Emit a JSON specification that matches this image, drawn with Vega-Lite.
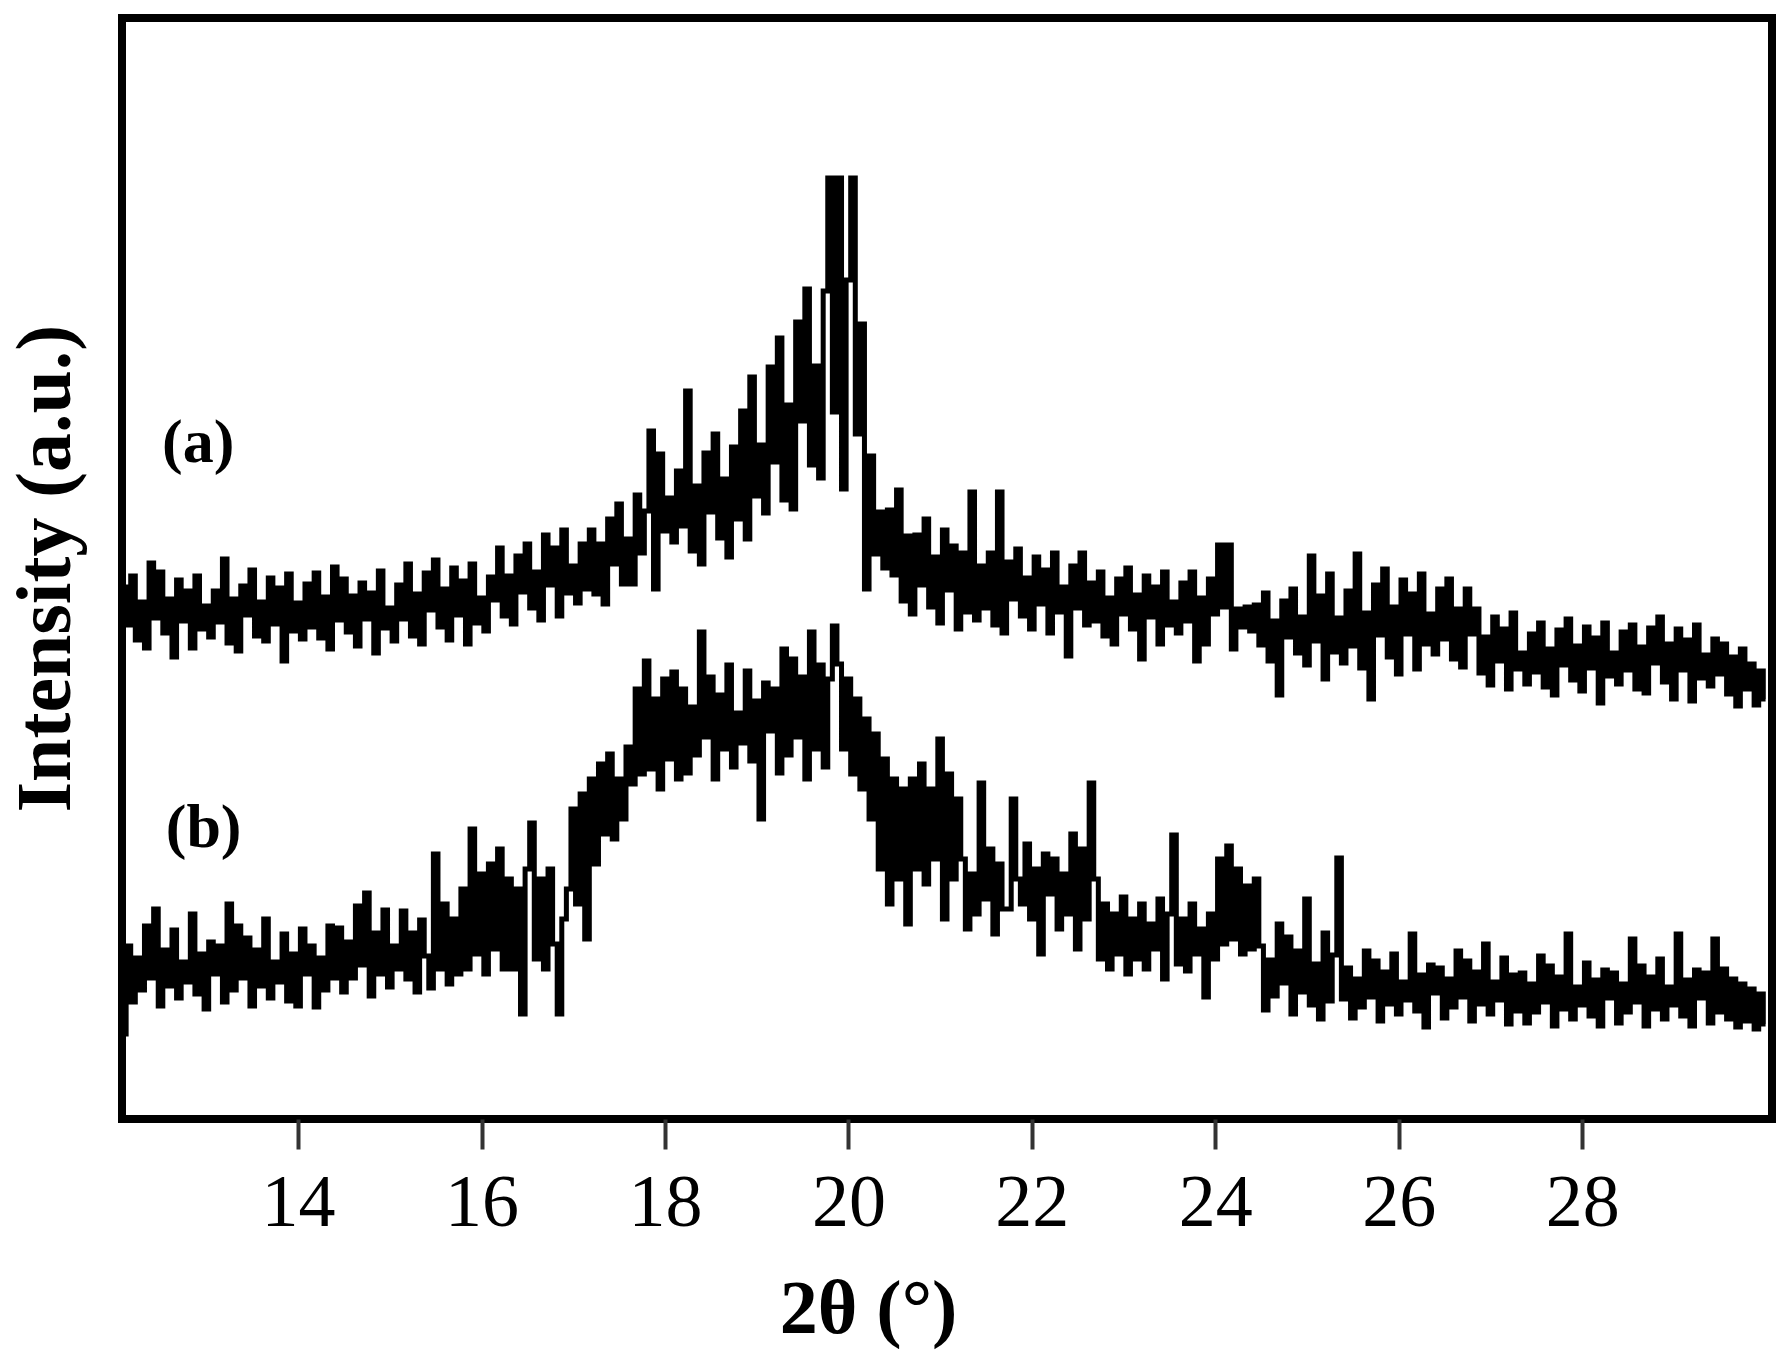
{
"$schema": "https://vega.github.io/schema/vega-lite/v6.json",
"width": 1650, "height": 1101,
"autosize": {"type": "none"},
"padding": {"left": 122, "top": 18, "right": 10, "bottom": 238},
"background": "white",
"config": {"view": {"stroke": "black", "strokeWidth": 8}},
"encoding": {
 "x": {"field": "x", "type": "quantitative", "scale": {"domain": [12.08, 30.07], "nice": false, "zero": false},
  "axis": {"title": "2θ (°)", "values": [14,16,18,20,22,24,26,28], "domain": false, "grid": false, "ticks": true, "tickSize": 30, "tickWidth": 4, "tickColor": "#333", "labelFont": "Liberation Serif", "labelFontSize": 74, "labelColor": "black", "labelPadding": 18, "labelFlush": false, "labelOverlap": false, "titleFont": "Liberation Serif", "titleFontSize": 76, "titleFontWeight": "bold", "titleColor": "black", "titleX": 746, "titleY": 213, "titleAlign": "center", "titleBaseline": "alphabetic"}},
 "y": {"field": "y", "type": "quantitative", "scale": {"domain": [0, 1101], "nice": false, "zero": false},
  "axis": {"title": "Intensity (a.u.)", "domain": false, "grid": false, "ticks": false, "labels": false, "titleFont": "Liberation Serif", "titleFontSize": 78, "titleFontWeight": "bold", "titleColor": "black", "titleAngle": -90, "titleX": -53, "titleY": 550, "titleAlign": "center", "titleBaseline": "alphabetic"}}
},
"layer": [
{"data": {"values": [
{"s":"a","x":12.1,"y":532},{"s":"a","x":12.15,"y":494},{"s":"a","x":12.2,"y":543},{"s":"a","x":12.25,"y":479},{"s":"a","x":12.3,"y":517},{"s":"a","x":12.35,"y":471},{"s":"a","x":12.4,"y":556},{"s":"a","x":12.45,"y":501},{"s":"a","x":12.5,"y":547},{"s":"a","x":12.55,"y":486},{"s":"a","x":12.6,"y":520},{"s":"a","x":12.65,"y":462},{"s":"a","x":12.7,"y":539},{"s":"a","x":12.75,"y":498},{"s":"a","x":12.8,"y":528},{"s":"a","x":12.85,"y":471},{"s":"a","x":12.9,"y":543},{"s":"a","x":12.95,"y":490},{"s":"a","x":13,"y":513},{"s":"a","x":13.05,"y":482},
{"s":"a","x":13.1,"y":528},{"s":"a","x":13.15,"y":497},{"s":"a","x":13.2,"y":560},{"s":"a","x":13.25,"y":476},{"s":"a","x":13.3,"y":520},{"s":"a","x":13.35,"y":468},{"s":"a","x":13.4,"y":533},{"s":"a","x":13.45,"y":504},{"s":"a","x":13.5,"y":549},{"s":"a","x":13.55,"y":483},{"s":"a","x":13.6,"y":517},{"s":"a","x":13.65,"y":478},{"s":"a","x":13.7,"y":541},{"s":"a","x":13.75,"y":495},{"s":"a","x":13.8,"y":531},{"s":"a","x":13.85,"y":458},{"s":"a","x":13.9,"y":545},{"s":"a","x":13.95,"y":488},{"s":"a","x":14,"y":516},{"s":"a","x":14.05,"y":480},
{"s":"a","x":14.1,"y":535},{"s":"a","x":14.15,"y":492},{"s":"a","x":14.2,"y":546},{"s":"a","x":14.25,"y":481},{"s":"a","x":14.3,"y":522},{"s":"a","x":14.35,"y":470},{"s":"a","x":14.4,"y":552},{"s":"a","x":14.45,"y":499},{"s":"a","x":14.5,"y":540},{"s":"a","x":14.55,"y":487},{"s":"a","x":14.6,"y":523},{"s":"a","x":14.65,"y":473},{"s":"a","x":14.7,"y":536},{"s":"a","x":14.75,"y":500},{"s":"a","x":14.8,"y":526},{"s":"a","x":14.85,"y":466},{"s":"a","x":14.9,"y":548},{"s":"a","x":14.95,"y":491},{"s":"a","x":15,"y":511},{"s":"a","x":15.05,"y":478},
{"s":"a","x":15.1,"y":534},{"s":"a","x":15.15,"y":500},{"s":"a","x":15.2,"y":555},{"s":"a","x":15.25,"y":483},{"s":"a","x":15.3,"y":525},{"s":"a","x":15.35,"y":475},{"s":"a","x":15.4,"y":546},{"s":"a","x":15.45,"y":509},{"s":"a","x":15.5,"y":559},{"s":"a","x":15.55,"y":492},{"s":"a","x":15.6,"y":530},{"s":"a","x":15.65,"y":479},{"s":"a","x":15.7,"y":551},{"s":"a","x":15.75,"y":504},{"s":"a","x":15.8,"y":538},{"s":"a","x":15.85,"y":475},{"s":"a","x":15.9,"y":555},{"s":"a","x":15.95,"y":496},{"s":"a","x":16,"y":521},{"s":"a","x":16.05,"y":488},
{"s":"a","x":16.1,"y":542},{"s":"a","x":16.15,"y":519},{"s":"a","x":16.2,"y":571},{"s":"a","x":16.25,"y":503},{"s":"a","x":16.3,"y":543},{"s":"a","x":16.35,"y":495},{"s":"a","x":16.4,"y":563},{"s":"a","x":16.45,"y":527},{"s":"a","x":16.5,"y":575},{"s":"a","x":16.55,"y":511},{"s":"a","x":16.6,"y":547},{"s":"a","x":16.65,"y":499},{"s":"a","x":16.7,"y":584},{"s":"a","x":16.75,"y":534},{"s":"a","x":16.8,"y":571},{"s":"a","x":16.85,"y":503},{"s":"a","x":16.9,"y":589},{"s":"a","x":16.95,"y":526},{"s":"a","x":17,"y":553},{"s":"a","x":17.05,"y":516},
{"s":"a","x":17.1,"y":575},{"s":"a","x":17.15,"y":530},{"s":"a","x":17.2,"y":589},{"s":"a","x":17.25,"y":525},{"s":"a","x":17.3,"y":575},{"s":"a","x":17.35,"y":515},{"s":"a","x":17.4,"y":600},{"s":"a","x":17.45,"y":555},{"s":"a","x":17.5,"y":615},{"s":"a","x":17.55,"y":535},{"s":"a","x":17.6,"y":580},{"s":"a","x":17.65,"y":535},{"s":"a","x":17.7,"y":624},{"s":"a","x":17.75,"y":566},{"s":"a","x":17.8,"y":608},{"s":"a","x":17.85,"y":688},{"s":"a","x":17.9,"y":530},{"s":"a","x":17.95,"y":665},{"s":"a","x":18,"y":588},{"s":"a","x":18.05,"y":621},
{"s":"a","x":18.1,"y":577},{"s":"a","x":18.15,"y":648},{"s":"a","x":18.2,"y":593},{"s":"a","x":18.25,"y":728},{"s":"a","x":18.3,"y":568},{"s":"a","x":18.35,"y":633},{"s":"a","x":18.4,"y":555},{"s":"a","x":18.45,"y":666},{"s":"a","x":18.5,"y":607},{"s":"a","x":18.55,"y":685},{"s":"a","x":18.6,"y":581},{"s":"a","x":18.65,"y":640},{"s":"a","x":18.7,"y":562},{"s":"a","x":18.75,"y":672},{"s":"a","x":18.8,"y":600},{"s":"a","x":18.85,"y":708},{"s":"a","x":18.9,"y":580},{"s":"a","x":18.95,"y":742},{"s":"a","x":19,"y":623},{"s":"a","x":19.05,"y":674},
{"s":"a","x":19.1,"y":606},{"s":"a","x":19.15,"y":752},{"s":"a","x":19.2,"y":657},{"s":"a","x":19.25,"y":781},{"s":"a","x":19.3,"y":619},{"s":"a","x":19.35,"y":714},{"s":"a","x":19.4,"y":610},{"s":"a","x":19.45,"y":797},{"s":"a","x":19.5,"y":698},{"s":"a","x":19.55,"y":830},{"s":"a","x":19.6,"y":654},{"s":"a","x":19.65,"y":753},{"s":"a","x":19.7,"y":641},{"s":"a","x":19.75,"y":828},{"s":"a","x":19.8,"y":941},{"s":"a","x":19.85,"y":707},{"s":"a","x":19.9,"y":941},{"s":"a","x":19.95,"y":630},{"s":"a","x":20,"y":839},{"s":"a","x":20.05,"y":941},
{"s":"a","x":20.1,"y":685},{"s":"a","x":20.15,"y":795},{"s":"a","x":20.2,"y":530},{"s":"a","x":20.25,"y":663},{"s":"a","x":20.3,"y":565},{"s":"a","x":20.35,"y":607},{"s":"a","x":20.4,"y":551},{"s":"a","x":20.45,"y":609},{"s":"a","x":20.5,"y":544},{"s":"a","x":20.55,"y":629},{"s":"a","x":20.6,"y":518},{"s":"a","x":20.65,"y":583},{"s":"a","x":20.7,"y":505},{"s":"a","x":20.75,"y":584},{"s":"a","x":20.8,"y":534},{"s":"a","x":20.85,"y":600},{"s":"a","x":20.9,"y":512},{"s":"a","x":20.95,"y":562},{"s":"a","x":21,"y":496},{"s":"a","x":21.05,"y":589},
{"s":"a","x":21.1,"y":529},{"s":"a","x":21.15,"y":573},{"s":"a","x":21.2,"y":490},{"s":"a","x":21.25,"y":566},{"s":"a","x":21.3,"y":507},{"s":"a","x":21.35,"y":627},{"s":"a","x":21.4,"y":499},{"s":"a","x":21.45,"y":553},{"s":"a","x":21.5,"y":511},{"s":"a","x":21.55,"y":566},{"s":"a","x":21.6,"y":494},{"s":"a","x":21.65,"y":627},{"s":"a","x":21.7,"y":486},{"s":"a","x":21.75,"y":557},{"s":"a","x":21.8,"y":520},{"s":"a","x":21.85,"y":570},{"s":"a","x":21.9,"y":503},{"s":"a","x":21.95,"y":541},{"s":"a","x":22,"y":490},{"s":"a","x":22.05,"y":562},
{"s":"a","x":22.1,"y":515},{"s":"a","x":22.15,"y":549},{"s":"a","x":22.2,"y":486},{"s":"a","x":22.25,"y":566},{"s":"a","x":22.3,"y":507},{"s":"a","x":22.35,"y":532},{"s":"a","x":22.4,"y":463},{"s":"a","x":22.45,"y":553},{"s":"a","x":22.5,"y":511},{"s":"a","x":22.55,"y":566},{"s":"a","x":22.6,"y":494},{"s":"a","x":22.65,"y":536},{"s":"a","x":22.7,"y":498},{"s":"a","x":22.75,"y":547},{"s":"a","x":22.8,"y":483},{"s":"a","x":22.85,"y":521},{"s":"a","x":22.9,"y":475},{"s":"a","x":22.95,"y":540},{"s":"a","x":23,"y":505},{"s":"a","x":23.05,"y":551},
{"s":"a","x":23.1,"y":490},{"s":"a","x":23.15,"y":524},{"s":"a","x":23.2,"y":460},{"s":"a","x":23.25,"y":543},{"s":"a","x":23.3,"y":502},{"s":"a","x":23.35,"y":532},{"s":"a","x":23.4,"y":475},{"s":"a","x":23.45,"y":547},{"s":"a","x":23.5,"y":494},{"s":"a","x":23.55,"y":517},{"s":"a","x":23.6,"y":486},{"s":"a","x":23.65,"y":536},{"s":"a","x":23.7,"y":498},{"s":"a","x":23.75,"y":547},{"s":"a","x":23.8,"y":458},{"s":"a","x":23.85,"y":521},{"s":"a","x":23.9,"y":475},{"s":"a","x":23.95,"y":540},{"s":"a","x":24,"y":505},{"s":"a","x":24.05,"y":574},
{"s":"a","x":24.1,"y":512},{"s":"a","x":24.15,"y":574},{"s":"a","x":24.2,"y":470},{"s":"a","x":24.25,"y":510},{"s":"a","x":24.3,"y":492},{"s":"a","x":24.35,"y":512},{"s":"a","x":24.4,"y":488},{"s":"a","x":24.45,"y":514},{"s":"a","x":24.5,"y":474},{"s":"a","x":24.55,"y":526},{"s":"a","x":24.6,"y":458},{"s":"a","x":24.65,"y":498},{"s":"a","x":24.7,"y":424},{"s":"a","x":24.75,"y":518},{"s":"a","x":24.8,"y":482},{"s":"a","x":24.85,"y":530},{"s":"a","x":24.9,"y":466},{"s":"a","x":24.95,"y":502},{"s":"a","x":25,"y":454},{"s":"a","x":25.05,"y":563},
{"s":"a","x":25.1,"y":478},{"s":"a","x":25.15,"y":523},{"s":"a","x":25.2,"y":440},{"s":"a","x":25.25,"y":545},{"s":"a","x":25.3,"y":467},{"s":"a","x":25.35,"y":501},{"s":"a","x":25.4,"y":456},{"s":"a","x":25.45,"y":528},{"s":"a","x":25.5,"y":473},{"s":"a","x":25.55,"y":565},{"s":"a","x":25.6,"y":451},{"s":"a","x":25.65,"y":506},{"s":"a","x":25.7,"y":420},{"s":"a","x":25.75,"y":534},{"s":"a","x":25.8,"y":484},{"s":"a","x":25.85,"y":550},{"s":"a","x":25.9,"y":462},{"s":"a","x":25.95,"y":512},{"s":"a","x":26,"y":445},{"s":"a","x":26.05,"y":539},
{"s":"a","x":26.1,"y":485},{"s":"a","x":26.15,"y":525},{"s":"a","x":26.2,"y":450},{"s":"a","x":26.25,"y":545},{"s":"a","x":26.3,"y":475},{"s":"a","x":26.35,"y":505},{"s":"a","x":26.4,"y":465},{"s":"a","x":26.45,"y":530},{"s":"a","x":26.5,"y":480},{"s":"a","x":26.55,"y":540},{"s":"a","x":26.6,"y":460},{"s":"a","x":26.65,"y":510},{"s":"a","x":26.7,"y":452},{"s":"a","x":26.75,"y":530},{"s":"a","x":26.8,"y":485},{"s":"a","x":26.85,"y":510},{"s":"a","x":26.9,"y":446},{"s":"a","x":26.95,"y":482},{"s":"a","x":27,"y":434},{"s":"a","x":27.05,"y":502},
{"s":"a","x":27.1,"y":458},{"s":"a","x":27.15,"y":490},{"s":"a","x":27.2,"y":430},{"s":"a","x":27.25,"y":506},{"s":"a","x":27.3,"y":450},{"s":"a","x":27.35,"y":466},{"s":"a","x":27.4,"y":435},{"s":"a","x":27.45,"y":485},{"s":"a","x":27.5,"y":447},{"s":"a","x":27.55,"y":496},{"s":"a","x":27.6,"y":432},{"s":"a","x":27.65,"y":470},{"s":"a","x":27.7,"y":424},{"s":"a","x":27.75,"y":489},{"s":"a","x":27.8,"y":454},{"s":"a","x":27.85,"y":500},{"s":"a","x":27.9,"y":439},{"s":"a","x":27.95,"y":473},{"s":"a","x":28,"y":428},{"s":"a","x":28.05,"y":492},
{"s":"a","x":28.1,"y":451},{"s":"a","x":28.15,"y":481},{"s":"a","x":28.2,"y":416},{"s":"a","x":28.25,"y":496},{"s":"a","x":28.3,"y":443},{"s":"a","x":28.35,"y":466},{"s":"a","x":28.4,"y":435},{"s":"a","x":28.45,"y":487},{"s":"a","x":28.5,"y":449},{"s":"a","x":28.55,"y":494},{"s":"a","x":28.6,"y":430},{"s":"a","x":28.65,"y":472},{"s":"a","x":28.7,"y":426},{"s":"a","x":28.75,"y":491},{"s":"a","x":28.8,"y":456},{"s":"a","x":28.85,"y":502},{"s":"a","x":28.9,"y":437},{"s":"a","x":28.95,"y":475},{"s":"a","x":29,"y":420},{"s":"a","x":29.05,"y":490},
{"s":"a","x":29.1,"y":449},{"s":"a","x":29.15,"y":479},{"s":"a","x":29.2,"y":418},{"s":"a","x":29.25,"y":494},{"s":"a","x":29.3,"y":441},{"s":"a","x":29.35,"y":464},{"s":"a","x":29.4,"y":433},{"s":"a","x":29.45,"y":480},{"s":"a","x":29.5,"y":445},{"s":"a","x":29.55,"y":475},{"s":"a","x":29.6,"y":425},{"s":"a","x":29.65,"y":462},{"s":"a","x":29.7,"y":413},{"s":"a","x":29.75,"y":470},{"s":"a","x":29.8,"y":430},{"s":"a","x":29.85,"y":455},{"s":"a","x":29.9,"y":414},{"s":"a","x":29.95,"y":448},{"s":"a","x":30,"y":420},
{"s":"b","x":12.1,"y":85},{"s":"b","x":12.15,"y":173},{"s":"b","x":12.2,"y":117},{"s":"b","x":12.25,"y":161},{"s":"b","x":12.3,"y":129},{"s":"b","x":12.35,"y":193},{"s":"b","x":12.4,"y":141},{"s":"b","x":12.45,"y":210},{"s":"b","x":12.5,"y":113},{"s":"b","x":12.55,"y":169},{"s":"b","x":12.6,"y":133},{"s":"b","x":12.65,"y":189},{"s":"b","x":12.7,"y":121},{"s":"b","x":12.75,"y":157},{"s":"b","x":12.8,"y":137},{"s":"b","x":12.85,"y":205},{"s":"b","x":12.9,"y":125},{"s":"b","x":12.95,"y":165},{"s":"b","x":13,"y":110},{"s":"b","x":13.05,"y":177},
{"s":"b","x":13.1,"y":145},{"s":"b","x":13.15,"y":173},{"s":"b","x":13.2,"y":117},{"s":"b","x":13.25,"y":215},{"s":"b","x":13.3,"y":129},{"s":"b","x":13.35,"y":193},{"s":"b","x":13.4,"y":141},{"s":"b","x":13.45,"y":181},{"s":"b","x":13.5,"y":113},{"s":"b","x":13.55,"y":169},{"s":"b","x":13.6,"y":133},{"s":"b","x":13.65,"y":200},{"s":"b","x":13.7,"y":121},{"s":"b","x":13.75,"y":157},{"s":"b","x":13.8,"y":137},{"s":"b","x":13.85,"y":185},{"s":"b","x":13.9,"y":118},{"s":"b","x":13.95,"y":165},{"s":"b","x":14,"y":113},{"s":"b","x":14.05,"y":190},
{"s":"b","x":14.1,"y":145},{"s":"b","x":14.15,"y":173},{"s":"b","x":14.2,"y":112},{"s":"b","x":14.25,"y":161},{"s":"b","x":14.3,"y":129},{"s":"b","x":14.35,"y":193},{"s":"b","x":14.4,"y":141},{"s":"b","x":14.45,"y":191},{"s":"b","x":14.5,"y":127},{"s":"b","x":14.55,"y":177},{"s":"b","x":14.6,"y":141},{"s":"b","x":14.65,"y":213},{"s":"b","x":14.7,"y":154},{"s":"b","x":14.75,"y":226},{"s":"b","x":14.8,"y":123},{"s":"b","x":14.85,"y":186},{"s":"b","x":14.9,"y":145},{"s":"b","x":14.95,"y":209},{"s":"b","x":15,"y":132},{"s":"b","x":15.05,"y":173},
{"s":"b","x":15.1,"y":150},{"s":"b","x":15.15,"y":208},{"s":"b","x":15.2,"y":140},{"s":"b","x":15.25,"y":186},{"s":"b","x":15.3,"y":127},{"s":"b","x":15.35,"y":199},{"s":"b","x":15.4,"y":163},{"s":"b","x":15.45,"y":131},{"s":"b","x":15.5,"y":265},{"s":"b","x":15.55,"y":150},{"s":"b","x":15.6,"y":215},{"s":"b","x":15.65,"y":135},{"s":"b","x":15.7,"y":200},{"s":"b","x":15.75,"y":145},{"s":"b","x":15.8,"y":230},{"s":"b","x":15.85,"y":150},{"s":"b","x":15.9,"y":290},{"s":"b","x":15.95,"y":165},{"s":"b","x":16,"y":245},{"s":"b","x":16.05,"y":145},
{"s":"b","x":16.1,"y":255},{"s":"b","x":16.15,"y":170},{"s":"b","x":16.2,"y":270},{"s":"b","x":16.25,"y":150},{"s":"b","x":16.3,"y":240},{"s":"b","x":16.35,"y":150},{"s":"b","x":16.4,"y":230},{"s":"b","x":16.45,"y":105},{"s":"b","x":16.5,"y":250},{"s":"b","x":16.55,"y":296},{"s":"b","x":16.6,"y":160},{"s":"b","x":16.65,"y":240},{"s":"b","x":16.7,"y":150},{"s":"b","x":16.75,"y":250},{"s":"b","x":16.8,"y":175},{"s":"b","x":16.85,"y":105},{"s":"b","x":16.9,"y":200},{"s":"b","x":16.95,"y":230},{"s":"b","x":17,"y":310},{"s":"b","x":17.05,"y":215},
{"s":"b","x":17.1,"y":325},{"s":"b","x":17.15,"y":180},{"s":"b","x":17.2,"y":340},{"s":"b","x":17.25,"y":255},{"s":"b","x":17.3,"y":355},{"s":"b","x":17.35,"y":285},{"s":"b","x":17.4,"y":365},{"s":"b","x":17.45,"y":280},{"s":"b","x":17.5,"y":340},{"s":"b","x":17.55,"y":300},{"s":"b","x":17.6,"y":372},{"s":"b","x":17.65,"y":335},{"s":"b","x":17.7,"y":430},{"s":"b","x":17.75,"y":345},{"s":"b","x":17.8,"y":458},{"s":"b","x":17.85,"y":350},{"s":"b","x":17.9,"y":420},{"s":"b","x":17.95,"y":330},{"s":"b","x":18,"y":440},{"s":"b","x":18.05,"y":360},
{"s":"b","x":18.1,"y":447},{"s":"b","x":18.15,"y":340},{"s":"b","x":18.2,"y":430},{"s":"b","x":18.25,"y":346},{"s":"b","x":18.3,"y":412},{"s":"b","x":18.35,"y":364},{"s":"b","x":18.4,"y":487},{"s":"b","x":18.45,"y":382},{"s":"b","x":18.5,"y":442},{"s":"b","x":18.55,"y":340},{"s":"b","x":18.6,"y":424},{"s":"b","x":18.65,"y":370},{"s":"b","x":18.7,"y":454},{"s":"b","x":18.75,"y":352},{"s":"b","x":18.8,"y":406},{"s":"b","x":18.85,"y":376},{"s":"b","x":18.9,"y":448},{"s":"b","x":18.95,"y":358},{"s":"b","x":19,"y":418},{"s":"b","x":19.05,"y":300},
{"s":"b","x":19.1,"y":436},{"s":"b","x":19.15,"y":388},{"s":"b","x":19.2,"y":430},{"s":"b","x":19.25,"y":346},{"s":"b","x":19.3,"y":470},{"s":"b","x":19.35,"y":364},{"s":"b","x":19.4,"y":460},{"s":"b","x":19.45,"y":382},{"s":"b","x":19.5,"y":442},{"s":"b","x":19.55,"y":340},{"s":"b","x":19.6,"y":487},{"s":"b","x":19.65,"y":370},{"s":"b","x":19.7,"y":454},{"s":"b","x":19.75,"y":352},{"s":"b","x":19.8,"y":440},{"s":"b","x":19.85,"y":493},{"s":"b","x":19.9,"y":455},{"s":"b","x":19.95,"y":370},{"s":"b","x":20,"y":440},{"s":"b","x":20.05,"y":345},
{"s":"b","x":20.1,"y":420},{"s":"b","x":20.15,"y":330},{"s":"b","x":20.2,"y":400},{"s":"b","x":20.25,"y":300},{"s":"b","x":20.3,"y":385},{"s":"b","x":20.35,"y":250},{"s":"b","x":20.4,"y":360},{"s":"b","x":20.45,"y":215},{"s":"b","x":20.5,"y":340},{"s":"b","x":20.55,"y":240},{"s":"b","x":20.6,"y":330},{"s":"b","x":20.65,"y":195},{"s":"b","x":20.7,"y":340},{"s":"b","x":20.75,"y":250},{"s":"b","x":20.8,"y":355},{"s":"b","x":20.85,"y":235},{"s":"b","x":20.9,"y":330},{"s":"b","x":20.95,"y":260},{"s":"b","x":21,"y":380},{"s":"b","x":21.05,"y":200},
{"s":"b","x":21.1,"y":345},{"s":"b","x":21.15,"y":240},{"s":"b","x":21.2,"y":320},{"s":"b","x":21.25,"y":260},{"s":"b","x":21.3,"y":190},{"s":"b","x":21.35,"y":245},{"s":"b","x":21.4,"y":205},{"s":"b","x":21.45,"y":336},{"s":"b","x":21.5,"y":220},{"s":"b","x":21.55,"y":270},{"s":"b","x":21.6,"y":185},{"s":"b","x":21.65,"y":255},{"s":"b","x":21.7,"y":210},{"s":"b","x":21.75,"y":210},{"s":"b","x":21.8,"y":320},{"s":"b","x":21.85,"y":240},{"s":"b","x":21.9,"y":215},{"s":"b","x":21.95,"y":275},{"s":"b","x":22,"y":200},{"s":"b","x":22.05,"y":250},
{"s":"b","x":22.1,"y":165},{"s":"b","x":22.15,"y":265},{"s":"b","x":22.2,"y":225},{"s":"b","x":22.25,"y":260},{"s":"b","x":22.3,"y":190},{"s":"b","x":22.35,"y":245},{"s":"b","x":22.4,"y":205},{"s":"b","x":22.45,"y":285},{"s":"b","x":22.5,"y":170},{"s":"b","x":22.55,"y":270},{"s":"b","x":22.6,"y":200},{"s":"b","x":22.65,"y":336},{"s":"b","x":22.7,"y":240},{"s":"b","x":22.75,"y":160},{"s":"b","x":22.8,"y":215},{"s":"b","x":22.85,"y":150},{"s":"b","x":22.9,"y":205},{"s":"b","x":22.95,"y":165},{"s":"b","x":23,"y":222},{"s":"b","x":23.05,"y":145},
{"s":"b","x":23.1,"y":200},{"s":"b","x":23.15,"y":160},{"s":"b","x":23.2,"y":215},{"s":"b","x":23.25,"y":150},{"s":"b","x":23.3,"y":195},{"s":"b","x":23.35,"y":170},{"s":"b","x":23.4,"y":220},{"s":"b","x":23.45,"y":140},{"s":"b","x":23.5,"y":205},{"s":"b","x":23.55,"y":284},{"s":"b","x":23.6,"y":155},{"s":"b","x":23.65,"y":200},{"s":"b","x":23.7,"y":148},{"s":"b","x":23.75,"y":215},{"s":"b","x":23.8,"y":165},{"s":"b","x":23.85,"y":190},{"s":"b","x":23.9,"y":122},{"s":"b","x":23.95,"y":205},{"s":"b","x":24,"y":160},{"s":"b","x":24.05,"y":260},
{"s":"b","x":24.1,"y":175},{"s":"b","x":24.15,"y":273},{"s":"b","x":24.2,"y":180},{"s":"b","x":24.25,"y":250},{"s":"b","x":24.3,"y":165},{"s":"b","x":24.35,"y":233},{"s":"b","x":24.4,"y":170},{"s":"b","x":24.45,"y":240},{"s":"b","x":24.5,"y":173},{"s":"b","x":24.55,"y":109},{"s":"b","x":24.6,"y":159},{"s":"b","x":24.65,"y":123},{"s":"b","x":24.7,"y":195},{"s":"b","x":24.75,"y":136},{"s":"b","x":24.8,"y":182},{"s":"b","x":24.85,"y":105},{"s":"b","x":24.9,"y":168},{"s":"b","x":24.95,"y":127},{"s":"b","x":25,"y":220},{"s":"b","x":25.05,"y":114},
{"s":"b","x":25.1,"y":155},{"s":"b","x":25.15,"y":100},{"s":"b","x":25.2,"y":186},{"s":"b","x":25.25,"y":118},{"s":"b","x":25.3,"y":164},{"s":"b","x":25.35,"y":261},{"s":"b","x":25.4,"y":120},{"s":"b","x":25.45,"y":151},{"s":"b","x":25.5,"y":101},{"s":"b","x":25.55,"y":140},{"s":"b","x":25.6,"y":112},{"s":"b","x":25.65,"y":168},{"s":"b","x":25.7,"y":122},{"s":"b","x":25.75,"y":158},{"s":"b","x":25.8,"y":98},{"s":"b","x":25.85,"y":147},{"s":"b","x":25.9,"y":115},{"s":"b","x":25.95,"y":165},{"s":"b","x":26,"y":105},{"s":"b","x":26.05,"y":137},
{"s":"b","x":26.1,"y":119},{"s":"b","x":26.15,"y":185},{"s":"b","x":26.2,"y":108},{"s":"b","x":26.25,"y":144},{"s":"b","x":26.3,"y":92},{"s":"b","x":26.35,"y":154},{"s":"b","x":26.4,"y":126},{"s":"b","x":26.45,"y":151},{"s":"b","x":26.5,"y":101},{"s":"b","x":26.55,"y":140},{"s":"b","x":26.6,"y":112},{"s":"b","x":26.65,"y":168},{"s":"b","x":26.7,"y":122},{"s":"b","x":26.75,"y":158},{"s":"b","x":26.8,"y":98},{"s":"b","x":26.85,"y":147},{"s":"b","x":26.9,"y":115},{"s":"b","x":26.95,"y":175},{"s":"b","x":27,"y":105},{"s":"b","x":27.05,"y":137},
{"s":"b","x":27.1,"y":119},{"s":"b","x":27.15,"y":161},{"s":"b","x":27.2,"y":95},{"s":"b","x":27.25,"y":144},{"s":"b","x":27.3,"y":108},{"s":"b","x":27.35,"y":146},{"s":"b","x":27.4,"y":96},{"s":"b","x":27.45,"y":135},{"s":"b","x":27.5,"y":107},{"s":"b","x":27.55,"y":163},{"s":"b","x":27.6,"y":117},{"s":"b","x":27.65,"y":153},{"s":"b","x":27.7,"y":93},{"s":"b","x":27.75,"y":142},{"s":"b","x":27.8,"y":110},{"s":"b","x":27.85,"y":185},{"s":"b","x":27.9,"y":100},{"s":"b","x":27.95,"y":132},{"s":"b","x":28,"y":114},{"s":"b","x":28.05,"y":156},
{"s":"b","x":28.1,"y":103},{"s":"b","x":28.15,"y":139},{"s":"b","x":28.2,"y":93},{"s":"b","x":28.25,"y":149},{"s":"b","x":28.3,"y":121},{"s":"b","x":28.35,"y":146},{"s":"b","x":28.4,"y":96},{"s":"b","x":28.45,"y":135},{"s":"b","x":28.5,"y":107},{"s":"b","x":28.55,"y":180},{"s":"b","x":28.6,"y":117},{"s":"b","x":28.65,"y":153},{"s":"b","x":28.7,"y":93},{"s":"b","x":28.75,"y":142},{"s":"b","x":28.8,"y":110},{"s":"b","x":28.85,"y":160},{"s":"b","x":28.9,"y":100},{"s":"b","x":28.95,"y":132},{"s":"b","x":29,"y":114},{"s":"b","x":29.05,"y":185},
{"s":"b","x":29.1,"y":103},{"s":"b","x":29.15,"y":139},{"s":"b","x":29.2,"y":93},{"s":"b","x":29.25,"y":149},{"s":"b","x":29.3,"y":121},{"s":"b","x":29.35,"y":146},{"s":"b","x":29.4,"y":96},{"s":"b","x":29.45,"y":180},{"s":"b","x":29.5,"y":107},{"s":"b","x":29.55,"y":150},{"s":"b","x":29.6,"y":100},{"s":"b","x":29.65,"y":140},{"s":"b","x":29.7,"y":92},{"s":"b","x":29.75,"y":135},{"s":"b","x":29.8,"y":98},{"s":"b","x":29.85,"y":130},{"s":"b","x":29.9,"y":90},{"s":"b","x":29.95,"y":125},{"s":"b","x":30,"y":95}
]},
 "mark": {"type": "line", "interpolate": "step", "color": "black", "strokeWidth": 5, "clip": true},
 "encoding": {"detail": {"field": "s"}}
},
{"data": {"values": [{"x": 12.91, "y": 676, "t": "(a)"}, {"x": 12.97, "y": 291, "t": "(b)"}]},
 "mark": {"type": "text", "font": "Liberation Serif", "fontWeight": "bold", "fontSize": 62, "baseline": "middle", "align": "center", "color": "black"},
 "encoding": {"text": {"field": "t"}}
}
]
}
